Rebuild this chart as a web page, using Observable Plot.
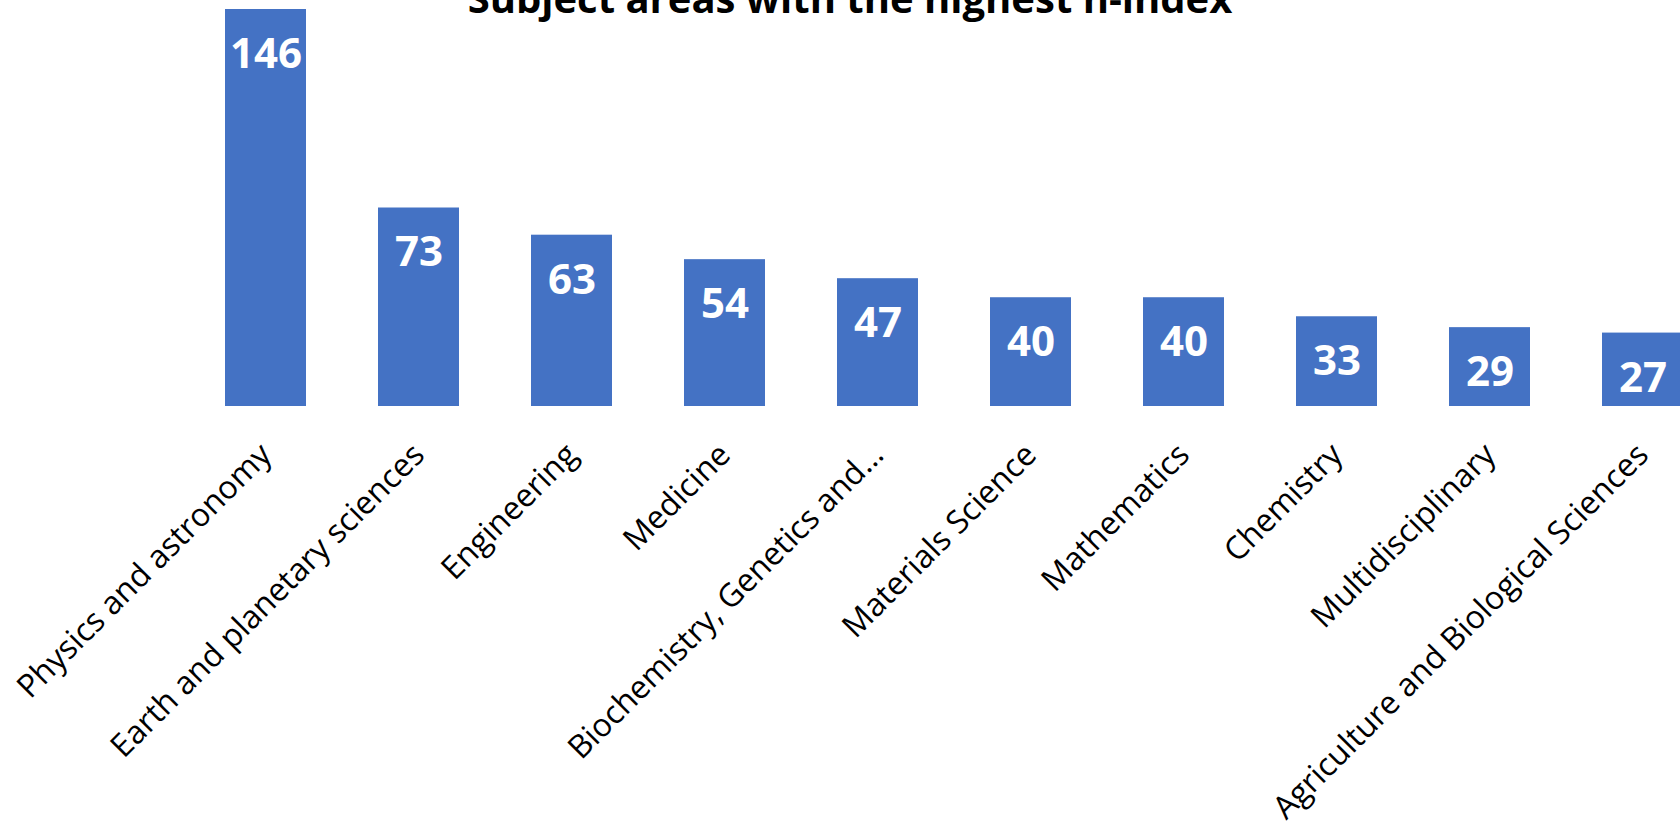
<!DOCTYPE html>
<html>
<head>
<meta charset="utf-8">
<script src="https://cdn.jsdelivr.net/npm/d3@7"></script>
<script src="https://cdn.jsdelivr.net/npm/@observablehq/plot@0.6"></script>
<style>
  html, body { margin: 0; padding: 0; background: #fff; overflow: hidden; width: 1680px; height: 826px; }
  #wrap { position: relative; width: 1680px; height: 826px; overflow: hidden; }
  #title { position: absolute; top: -22px; left: 850px; transform: translateX(-50%); white-space: nowrap;
           font-family: "Open Sans", sans-serif; font-weight: 700; font-size: 40px; line-height: 40px; color: #000; }
  #chart svg { max-width: none !important; display: block; }
</style>
</head>
<body>
<div id="wrap">
  <div id="chart"></div>
  <div id="title">Subject areas with the highest h-index</div>
</div>
<script>
const subjects = [
  "Physics and astronomy",
  "Earth and planetary sciences",
  "Engineering",
  "Medicine",
  "Biochemistry, Genetics and…",
  "Materials Science",
  "Mathematics",
  "Chemistry",
  "Multidisciplinary",
  "Agriculture and Biological Sciences"
];
const hIndex = [146, 73, 63, 54, 47, 40, 40, 33, 29, 27];

const data = subjects.map((s, i) => ({subject: s, value: hIndex[i]}));

const chart = Plot.plot({
  width: 1760,
  height: 826,
  marginLeft: 152,
  marginRight: 3,
  marginTop: 9,
  marginBottom: 420,
  style: {fontFamily: "'Open Sans', sans-serif", background: "#fff", color: "#000"},
  x: {domain: subjects, padding: 0.47, axis: null},
  y: {domain: [0, 146], axis: null},
  marks: [
    Plot.barY(data, {x: "subject", y: "value", fill: "#4472C4"}),
    Plot.text(data, {x: "subject", y: "value", text: d => String(d.value), fill: "#fff",
      fontWeight: "bold", fontSize: 42, dy: 45}),
    Plot.axisX({domain: subjects, tickRotate: -45, tickSize: 0, tickPadding: 43, fontSize: 32,
      fill: "#000", label: null})
  ]
});
document.getElementById("chart").appendChild(chart);
</script>
</body>
</html>
